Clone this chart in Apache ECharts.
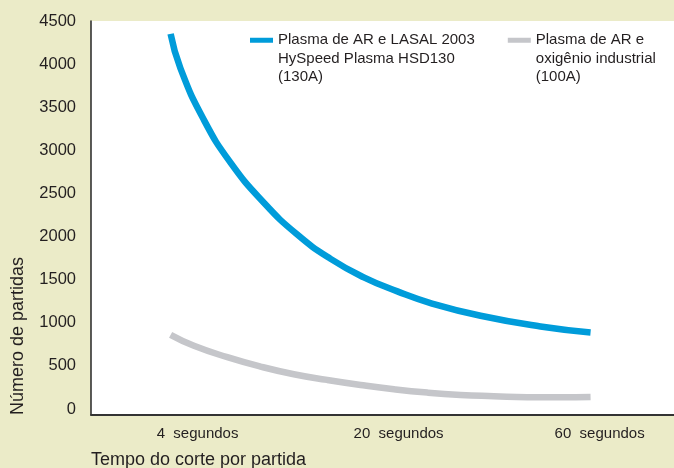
<!DOCTYPE html>
<html>
<head>
<meta charset="utf-8">
<script src="https://cdn.jsdelivr.net/npm/echarts@6/dist/echarts.min.js"></script>
<style>
html,body{margin:0;padding:0;background:#ebebc8;}
#chart{width:674px;height:468px;}
</style>
</head>
<body>
<div id="chart"></div>
<script>
// Categories on the x axis (positions 0, 1, 2)
const categories = ['4  segundos', '20  segundos', '60  segundos'];
const xTickPositions = [0, 1, 2];
// Y axis tick labels
const yTicks = [0, 500, 1000, 1500, 2000, 2500, 3000, 3500, 4000, 4500];

// Series names (legend shows them on several lines)
const seriesNames = ['Plasma de AR e LASAL 2003 HySpeed Plasma HSD130 (130A)', 'Plasma de AR e oxigênio industrial (100A)'];
const legendLabels = ['Plasma de AR e LASAL 2003\nHySpeed Plasma HSD130\n(130A)', 'Plasma de AR e\noxigênio industrial\n(100A)'];

// Blue curve: x in category units, y = número de partidas
const blueX = [-0.134, -0.085, 0.030, 0.164, 0.330, 0.496, 0.662, 0.827, 0.994, 1.159, 1.408, 1.706, 1.955];
const blueY = [4350, 3950, 3360, 2857, 2392, 2023, 1741, 1527, 1364, 1229, 1081, 957, 887];

// Gray curve
const grayX = [-0.134, -0.018, 0.148, 0.313, 0.479, 0.645, 0.811, 0.977, 1.143, 1.308, 1.474, 1.640, 1.806, 1.955];
const grayY = [860, 733, 601, 492, 403, 337, 279, 229, 190, 163, 148, 136, 136, 140];

const zip = (xs, ys) => xs.map((x, i) => [x, ys[i]]);
const FONT = "'Liberation Sans', Arial, Helvetica, sans-serif";
const TXT = '#231f20';

const chart = echarts.init(document.getElementById('chart'));
chart.setOption({
  backgroundColor: '#ebebc8',
  animation: false,
  textStyle: { fontFamily: FONT },
  grid: {
    left: 91, right: 0, top: 21, bottom: 53,
    show: true, backgroundColor: '#ffffff', borderWidth: 0
  },
  legend: {
    left: 250, top: -6, padding: 0,
    itemWidth: 23, itemHeight: 5, itemGap: 33,
    icon: 'rect',
    data: seriesNames,
    formatter: (name) => '\n\n' + legendLabels[seriesNames.indexOf(name)],
    textStyle: { fontFamily: FONT, fontSize: 15, lineHeight: 18.5, color: TXT }
  },
  xAxis: {
    type: 'value',
    min: -0.53, max: 2.37,
    splitLine: { show: false },
    axisLine: { show: true, onZero: false, lineStyle: { color: '#333333', width: 1.8 } },
    axisTick: { show: false },
    axisLabel: {
      customValues: xTickPositions,
      formatter: (v) => categories[Math.round(v)],
      fontSize: 15, color: TXT, margin: 11, fontFamily: FONT
    }
  },
  yAxis: {
    type: 'value',
    min: -70, max: 4500,
    splitLine: { show: false },
    axisLine: { show: true, onZero: false, lineStyle: { color: '#333333', width: 1.6 } },
    axisTick: { show: false, customValues: yTicks },
    axisLabel: {
      customValues: yTicks,
      formatter: (v) => String(v),
      fontSize: 16.5, color: TXT, margin: 15, fontFamily: FONT
    }
  },
  graphic: [
    {
      type: 'text', x: 18, y: 336, rotation: Math.PI / 2,
      style: { text: 'Número de partidas', fontSize: 18, fontFamily: FONT, fill: TXT, align: 'center', verticalAlign: 'middle' }
    },
    {
      type: 'text', x: 91, y: 460,
      style: { text: 'Tempo do corte por partida', fontSize: 18, fontFamily: FONT, fill: TXT, align: 'left', verticalAlign: 'middle' }
    }
  ],
  series: [
    {
      name: seriesNames[0], type: 'line', smooth: 0.5, showSymbol: false,
      data: zip(blueX, blueY),
      lineStyle: { color: '#009cda', width: 6.5 },
      itemStyle: { color: '#009cda' }
    },
    {
      name: seriesNames[1], type: 'line', smooth: 0.5, showSymbol: false,
      data: zip(grayX, grayY),
      lineStyle: { color: '#c5c6ca', width: 6.5 },
      itemStyle: { color: '#c5c6ca' }
    }
  ]
});
</script>
</body>
</html>
